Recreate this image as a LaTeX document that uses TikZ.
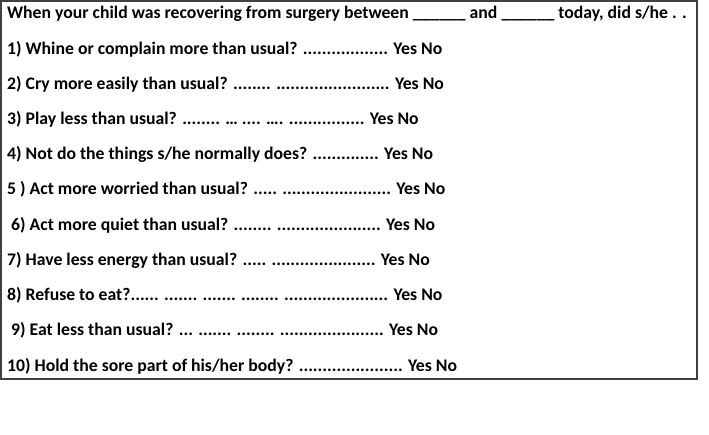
\documentclass[tikz,border=0pt]{standalone}
\usepackage{fontspec}
\setmainfont{Carlito}
\begin{document}
\begin{tikzpicture}[x=1pt,y=-1pt]
    \tikzstyle{frame}=[draw=black!75,line width=1.3pt]
    \tikzstyle{question}=[anchor=base west,inner sep=0pt,font=\fontsize{17.7}{20}\selectfont\bfseries]
    \useasboundingbox (0,0) rectangle (709,435);
    \draw[frame] (1,1) rectangle (697,379);

    % Header line of the form
    \node[question] (head) at (7,19) {When your child was recovering from surgery between \_\_\_\_\_\_ and \_\_\_\_\_\_ today, did s/he . .};

    % Draw the questions, one per row
    \foreach \n/\x/\t in {1/7/{1) Whine or complain more than usual? .................. Yes No},
        2/7/{2) Cry more easily than usual? ........ ........................ Yes No},
        3/7/{3) Play less than usual? ........ … .... …. ................ Yes No},
        4/7/{4) Not do the things s/he normally does? .............. Yes No},
        5/7/{5 ) Act more worried than usual? ..... ....................... Yes No},
        6/11/{6) Act more quiet than usual? ........ ...................... Yes No},
        7/7/{7) Have less energy than usual? ..... ...................... Yes No},
        8/7/{8) Refuse to eat?...... ....... ....... ........ ...................... Yes No},
        9/11/{9) Eat less than usual? ... ....... ........ ...................... Yes No},
        10/7/{10) Hold the sore part of his/her body? ...................... Yes No}}
        \node[question] (q-\n) at (\x,19+35.2*\n) {\t};
\end{tikzpicture}
\end{document}
